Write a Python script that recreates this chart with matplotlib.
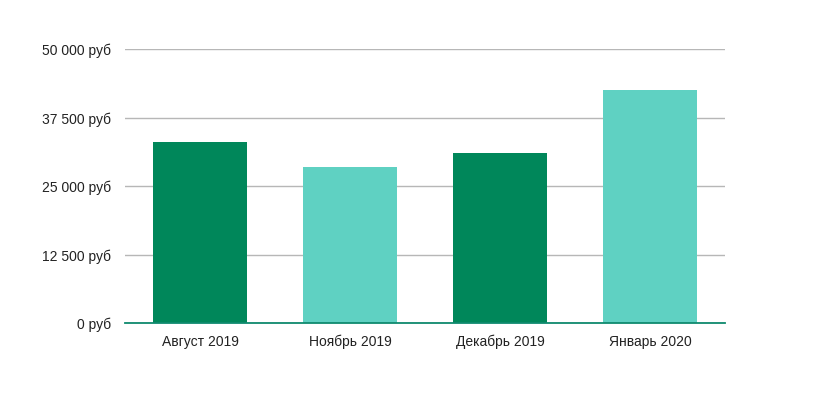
import matplotlib
matplotlib.use("Agg")
import matplotlib.pyplot as plt
from matplotlib.ticker import FuncFormatter

categories = ["Август 2019", "Ноябрь 2019", "Декабрь 2019", "Январь 2020"]
values = [33000, 28600, 31000, 42500]
colors = ["#00875a", "#5fd1c2", "#00875a", "#5fd1c2"]
yticks = [0, 12500, 25000, 37500, 50000]

plt.rcParams['font.family'] = ['Liberation Sans', 'DejaVu Sans']

fig = plt.figure(figsize=(8.22, 4.04), dpi=100)
ax = fig.add_axes([125/822, 1-323.3/404, 600/822, 274/404])

x = list(range(len(categories)))
ax.bar(x, values, width=0.627, color=colors, zorder=3)
ax.set_xlim(-0.5, len(categories)-0.5)
ax.set_ylim(0, 50000)
ax.set_yticks(yticks)
ax.yaxis.set_major_formatter(FuncFormatter(lambda v, p: f"{int(v):,}".replace(",", " ") + " руб"))
ax.set_xticks(x)
ax.set_xticklabels(categories, va='baseline')
ax.grid(axis='y', color='#b7b7b7', linewidth=1, zorder=0)
for s in ['top', 'right', 'left']:
    ax.spines[s].set_visible(False)
ax.spines['bottom'].set_color('#0f8a6e')
ax.spines['bottom'].set_linewidth(1.3)
ax.spines['bottom'].set_zorder(4)
ax.tick_params(axis='both', length=0, labelsize=10, colors='#222222')
ax.tick_params(axis='y', pad=10)
ax.tick_params(axis='x', pad=16)

fig.savefig("out.png", dpi=100)
